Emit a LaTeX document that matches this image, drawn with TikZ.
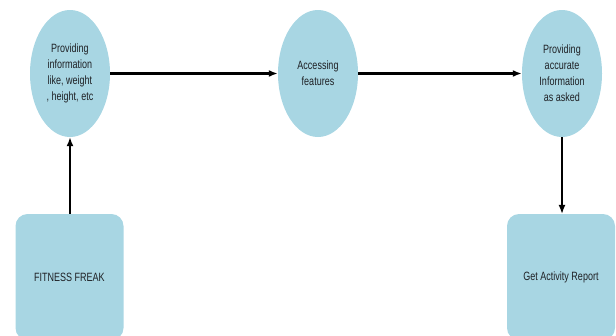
\documentclass[tikz,border=0pt]{standalone}
\usepackage{fontspec}
\setmainfont[FakeStretch=0.75]{Liberation Sans}
\usetikzlibrary{shapes.geometric,arrows.meta}

\definecolor{bubble}{RGB}{168,214,227}
\definecolor{ink}{RGB}{30,32,36}

\tikzset{
  stage/.style={ellipse, fill=bubble, minimum width=80pt, minimum height=127pt,
    inner sep=0pt, align=center, text=ink, font=\fontsize{12}{16}\selectfont},
  actor/.style={rectangle, rounded corners=12pt, fill=bubble, minimum width=108pt,
    minimum height=126pt, inner sep=0pt, text=ink, font=\fontsize{12}{16}\selectfont},
  link/.style={-{Latex[length=9pt,width=7pt]}, line width=1.6pt}
}

\begin{document}
\begin{tikzpicture}[x=1pt,y=1pt]
  \useasboundingbox (0,0) rectangle (616,-335);
  \clip (0,0) rectangle (616,-335);

  \node[stage] (info) at (70,-73.5) {Providing\\information\\like, weight\\, height, etc};
  \node[stage] (access) at (318,-73.5) {Accessing\\features};
  \node[stage] (answer) at (562,-73.5) {Providing\\accurate\\Information\\as asked};

  \node[actor] (freak) at (69.5,-277) {FITNESS FREAK};
  \node[actor] (report) at (561,-277) {Get Activity Report};

  \draw[link, line width=2.4pt] (info) -- (access);
  \draw[link, line width=2.4pt] (access) -- (answer);
  \draw[link] (freak.north -| info.south) -- (info.south);
  \draw[link, line width=1.3pt] (answer.south) -- (answer.south |- report.north);
\end{tikzpicture}
\end{document}
